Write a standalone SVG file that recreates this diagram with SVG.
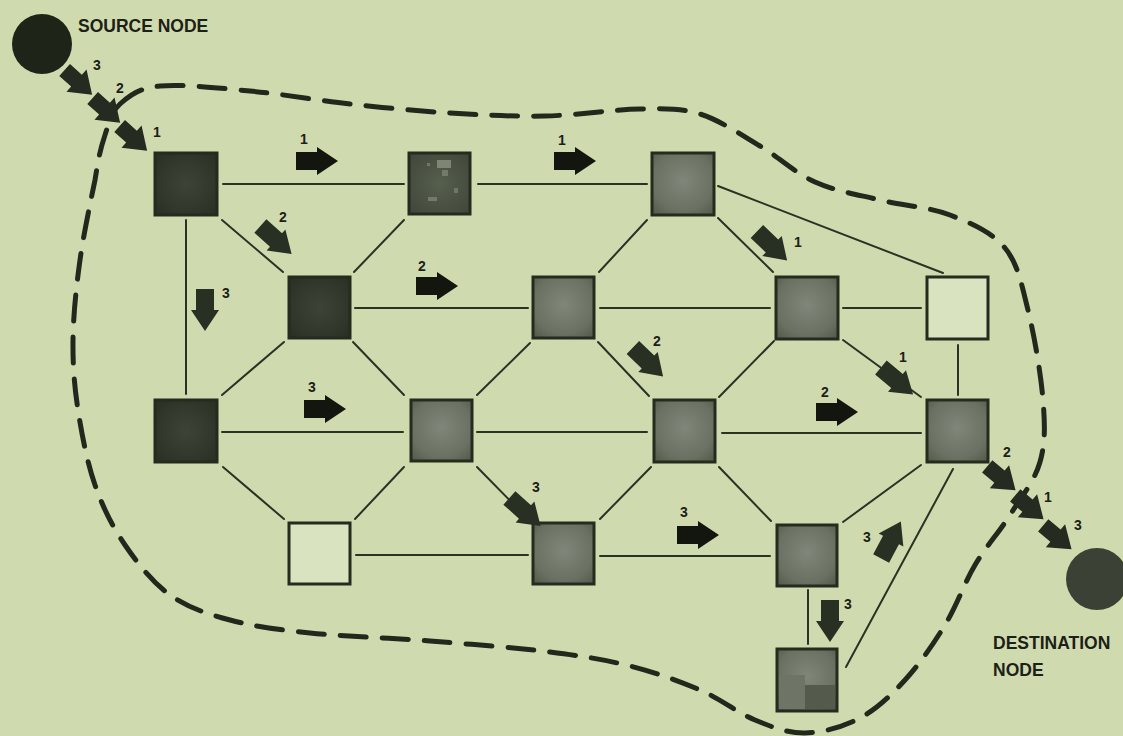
<svg xmlns="http://www.w3.org/2000/svg" xmlns:xlink="http://www.w3.org/1999/xlink" width="1123" height="736" viewBox="0 0 1123 736">
<defs>
<style>
.bg{fill:#cfdbaf}
.edge{stroke:#2c3125;stroke-width:2;fill:none;stroke-linecap:round}
.bound{stroke:#23281c;stroke-width:5;fill:none;stroke-dasharray:26 16;stroke-linecap:round}
.nd{stroke:#262b1f;stroke-width:3}
.dark{fill:url(#gDark)}
.med{fill:url(#gMed)}
.mid{fill:url(#gMid)}
.white{fill:#d9e3bf}
.ar{fill:#12160e}
.ard{fill:#283024}
.ars{fill:#252b20}
.lbl{font-family:"Liberation Sans",Arial,sans-serif;font-weight:bold;font-size:14px;fill:#1c2016;text-anchor:middle}
.ttl{font-family:"Liberation Sans",Arial,sans-serif;font-weight:bold;font-size:17.5px;fill:#1c2016}
</style>
<radialGradient id="gDark" cx="0.5" cy="0.5" r="0.7">
<stop offset="0" stop-color="#3d4436"/><stop offset="1" stop-color="#2a2f24"/>
</radialGradient>
<radialGradient id="gMed" cx="0.5" cy="0.45" r="0.7">
<stop offset="0" stop-color="#80877a"/><stop offset="0.7" stop-color="#6a7162"/><stop offset="1" stop-color="#555c4c"/>
</radialGradient>
<radialGradient id="gMid" cx="0.5" cy="0.5" r="0.7">
<stop offset="0" stop-color="#565e4e"/><stop offset="1" stop-color="#40473a"/>
</radialGradient>
<path id="arw" d="M-21,-9 H0 V-14 L21,0 L0,14 V9 H-21 Z"/>
<path id="arws" d="M-18,-8 H-2 V-15 L19,0 L-2,15 V8 H-18 Z"/>
</defs>
<rect class="bg" x="0" y="0" width="1123" height="736"/>

<g id="boundary">
<path class="bound" d="M120,104 C129.2,95.8 138.3,88.2 160,86 C181.7,83.8 218.3,88 250,91 C281.7,94 316.7,100.3 350,104 C383.3,107.7 417.5,111 450,113 C482.5,115 513.3,116.7 545,116 C576.7,115.3 614.2,109.3 640,109 C665.8,108.7 680,107.8 700,114 C720,120.2 740.8,134.7 760,146 C779.2,157.3 795,173 815,182 C835,191 857.5,194.5 880,200 C902.5,205.5 929.2,207 950,215 C970.8,223 992,232.2 1005,248 C1018,263.8 1021.7,284.7 1028,310 C1034.3,335.3 1041,374.7 1043,400 C1045,425.3 1045.5,442.8 1040,462 C1034.5,481.2 1020.8,497.8 1010,515 C999.2,532.2 985.8,546.7 975,565 C964.2,583.3 956.7,605.8 945,625 C933.3,644.2 919.2,664.5 905,680 C890.8,695.5 876.7,709.2 860,718 C843.3,726.8 822.5,732.7 805,733 C787.5,733.3 772.5,727.2 755,720 C737.5,712.8 720.8,699 700,690 C679.2,681 655,672.3 630,666 C605,659.7 583.3,656.2 550,652 C516.7,647.8 470,644.2 430,641 C390,637.8 343.3,636.5 310,633 C276.7,629.5 253.3,626.3 230,620 C206.7,613.7 187.5,607.5 170,595 C152.5,582.5 137.5,563.3 125,545 C112.5,526.7 102.8,507.5 95,485 C87.2,462.5 81.7,434.2 78,410 C74.3,385.8 72.7,365 73,340 C73.3,315 76.3,286.7 80,260 C83.7,233.3 90.8,200.8 95,180 C99.2,154 100.8,147.7 105,135 C109.2,122.3 110.8,112.2 120,104 Z"/>
</g>

<g id="connectors">
<line class="edge" x1="223" y1="184" x2="404" y2="184"/>
<line class="edge" x1="478" y1="184" x2="647" y2="184"/>
<line class="edge" x1="186" y1="220" x2="186" y2="394"/>
<line class="edge" x1="222" y1="220" x2="283" y2="272"/>
<line class="edge" x1="404" y1="220" x2="354" y2="272"/>
<line class="edge" x1="647" y1="220" x2="599" y2="272"/>
<line class="edge" x1="718" y1="218" x2="773" y2="272"/>
<line class="edge" x1="718" y1="186" x2="943" y2="273"/>
<line class="edge" x1="355" y1="308" x2="528" y2="308"/>
<line class="edge" x1="600" y1="308" x2="770" y2="308"/>
<line class="edge" x1="843" y1="308" x2="921" y2="308"/>
<line class="edge" x1="284" y1="342" x2="222" y2="395"/>
<line class="edge" x1="353" y1="342" x2="404" y2="395"/>
<line class="edge" x1="530" y1="343" x2="477" y2="395"/>
<line class="edge" x1="598" y1="342" x2="649" y2="396"/>
<line class="edge" x1="774" y1="341" x2="719" y2="397"/>
<line class="edge" x1="843" y1="340" x2="921" y2="397"/>
<line class="edge" x1="958" y1="345" x2="958" y2="395"/>
<line class="edge" x1="222" y1="432" x2="403" y2="432"/>
<line class="edge" x1="477" y1="432" x2="647" y2="432"/>
<line class="edge" x1="722" y1="433" x2="921" y2="433"/>
<line class="edge" x1="223" y1="467" x2="284" y2="519"/>
<line class="edge" x1="404" y1="467" x2="355" y2="519"/>
<line class="edge" x1="477" y1="467" x2="528" y2="519"/>
<line class="edge" x1="651" y1="467" x2="600" y2="519"/>
<line class="edge" x1="719" y1="467" x2="771" y2="521"/>
<line class="edge" x1="921" y1="465" x2="843" y2="522"/>
<line class="edge" x1="953" y1="469" x2="846" y2="667"/>
<line class="edge" x1="356" y1="555" x2="528" y2="555"/>
<line class="edge" x1="600" y1="556" x2="770" y2="556"/>
<line class="edge" x1="808" y1="590" x2="808" y2="644"/>
</g>

<g id="source">
<circle cx="42" cy="44" r="30" fill="#1f2419"/>
<text class="ttl" x="78" y="32">SOURCE NODE</text>
</g>
<g id="destination">
<circle cx="1097" cy="579" r="31" fill="#3b4134"/>
<text class="ttl" x="993" y="649">DESTINATION</text>
<text class="ttl" x="993" y="676">NODE</text>
</g>

<g id="nA"><rect class="nd dark" x="155" y="153" width="62" height="62"/></g>
<g id="nB"><rect class="nd mid" x="409" y="153" width="61" height="61"/>
<rect x="437" y="160" width="14" height="8" fill="#7e8575"/><rect x="442" y="170" width="6" height="6" fill="#727a69"/><rect x="428" y="197" width="9" height="4" fill="#747b6a"/><rect x="454" y="188" width="4" height="5" fill="#6f7666"/><rect x="427" y="163" width="3" height="3" fill="#6f7666"/></g>
<g id="nC"><rect class="nd med" x="652" y="153" width="62" height="62"/></g>
<g id="nD"><rect class="nd dark" x="289" y="277" width="61" height="61"/></g>
<g id="nE"><rect class="nd med" x="533" y="277" width="61" height="61"/></g>
<g id="nF"><rect class="nd med" x="776" y="277" width="62" height="62"/></g>
<g id="nG"><rect class="nd white" x="927" y="277" width="61" height="62"/></g>
<g id="nH"><rect class="nd dark" x="155" y="400" width="62" height="62"/></g>
<g id="nI"><rect class="nd med" x="411" y="400" width="61" height="61"/></g>
<g id="nJ"><rect class="nd med" x="654" y="400" width="61" height="62"/></g>
<g id="nK"><rect class="nd med" x="927" y="400" width="61" height="62"/></g>
<g id="nL"><rect class="nd white" x="289" y="523" width="61" height="61"/></g>
<g id="nM"><rect class="nd med" x="533" y="523" width="61" height="61"/></g>
<g id="nN"><rect class="nd med" x="777" y="525" width="60" height="61"/></g>
<g id="nO"><rect class="nd med" x="777" y="649" width="60" height="62"/>
<rect x="779" y="675" width="26" height="34" fill="#6e7566"/><rect x="805" y="685" width="30" height="24" fill="#545b4c"/></g>

<g id="flows">
<use href="#arw" class="ar" transform="translate(317,161)"/>
<text class="lbl" x="304" y="144">1</text>
<use href="#arw" class="ar" transform="translate(575,161)"/>
<text class="lbl" x="562" y="145">1</text>
<use href="#arw" class="ard" transform="translate(276,240) rotate(42)"/>
<text class="lbl" x="283" y="222">2</text>
<use href="#arw" class="ard" transform="translate(205,310) rotate(90)"/>
<text class="lbl" x="226" y="298">3</text>
<use href="#arw" class="ar" transform="translate(437,286)"/>
<text class="lbl" x="422" y="271">2</text>
<use href="#arw" class="ard" transform="translate(772,246) rotate(44)"/>
<text class="lbl" x="798" y="247">1</text>
<use href="#arw" class="ar" transform="translate(325,409)"/>
<text class="lbl" x="312" y="392">3</text>
<use href="#arw" class="ard" transform="translate(648,362) rotate(44)"/>
<text class="lbl" x="657" y="346">2</text>
<use href="#arw" class="ar" transform="translate(837,412)"/>
<text class="lbl" x="825" y="397">2</text>
<use href="#arw" class="ard" transform="translate(897,381) rotate(40)"/>
<text class="lbl" x="903" y="362">1</text>
<use href="#arw" class="ard" transform="translate(525,512) rotate(42)"/>
<text class="lbl" x="536" y="492">3</text>
<use href="#arw" class="ar" transform="translate(698,535)"/>
<text class="lbl" x="684" y="517">3</text>
<use href="#arw" class="ard" transform="translate(830,621) rotate(90)"/>
<text class="lbl" x="848" y="609">3</text>
<use href="#arw" class="ard" transform="translate(891,540) rotate(-62)"/>
<text class="lbl" x="867" y="542">3</text>
<use href="#arws" class="ars" transform="translate(78,82) rotate(42)"/>
<text class="lbl" x="97" y="70">3</text>
<use href="#arws" class="ars" transform="translate(106,110) rotate(42)"/>
<text class="lbl" x="120" y="93">2</text>
<use href="#arws" class="ars" transform="translate(133,138) rotate(42)"/>
<text class="lbl" x="157" y="137">1</text>
<use href="#arws" class="ars" transform="translate(1001,478) rotate(40)"/>
<text class="lbl" x="1007" y="457">2</text>
<use href="#arws" class="ars" transform="translate(1029,507) rotate(40)"/>
<text class="lbl" x="1048" y="502">1</text>
<use href="#arws" class="ars" transform="translate(1057,537) rotate(40)"/>
<text class="lbl" x="1078" y="530">3</text>
</g>
</svg>
